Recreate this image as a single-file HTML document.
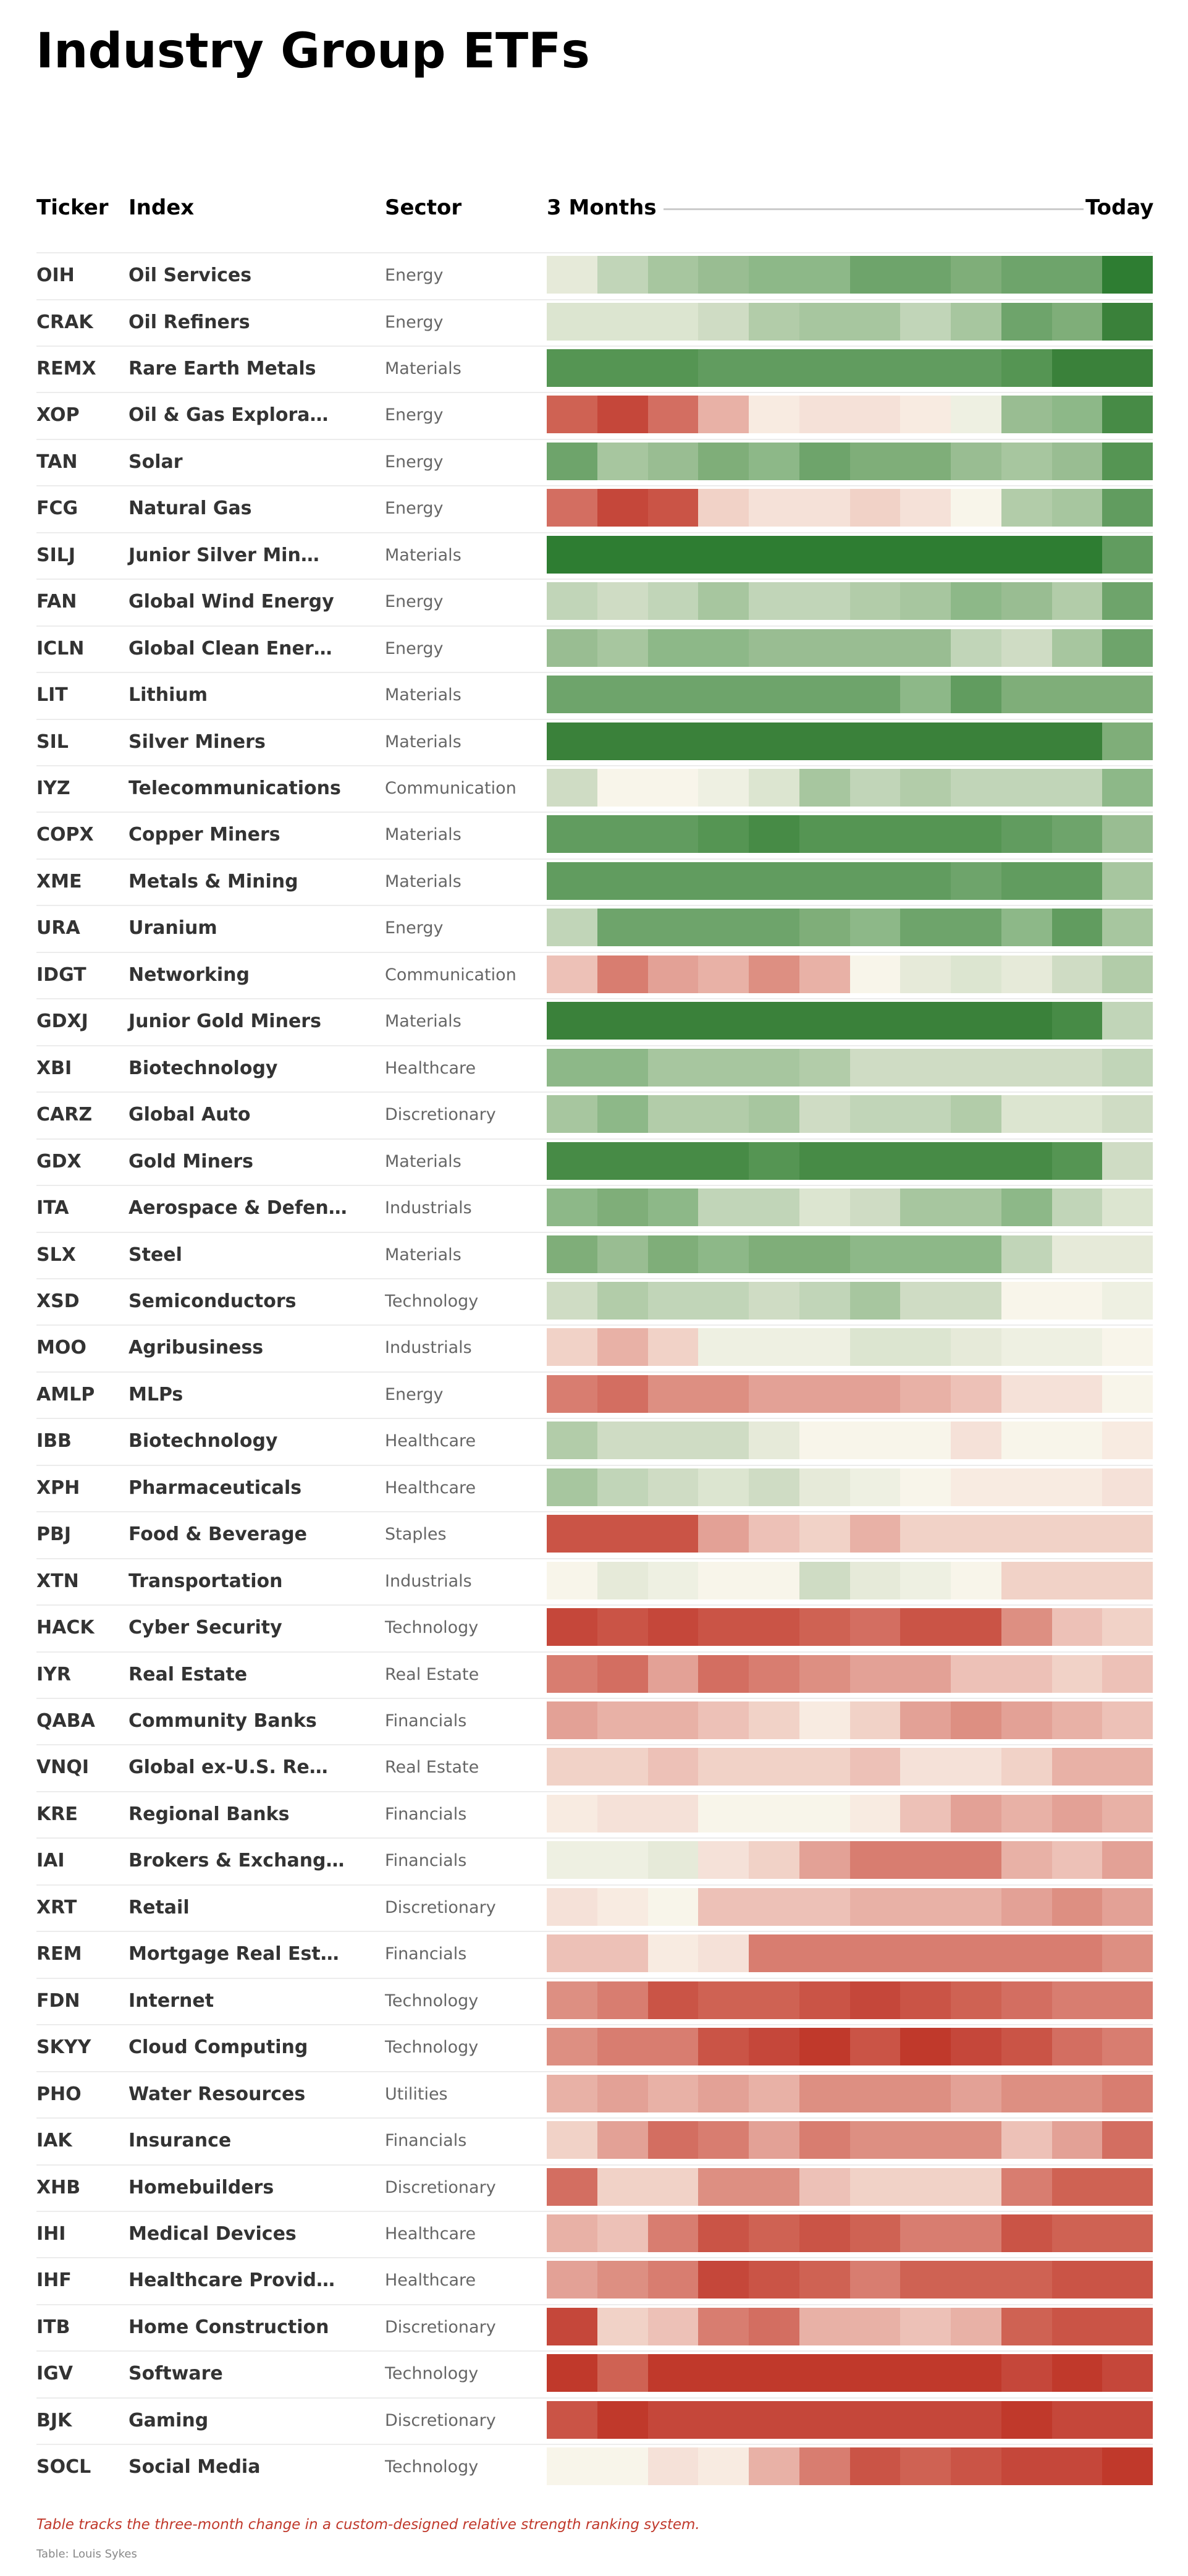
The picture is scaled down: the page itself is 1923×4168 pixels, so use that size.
<!DOCTYPE html>
<html><head><meta charset="utf-8">
<style>
html,body{margin:0;padding:0;background:#fff;}
body{width:1923px;height:4168px;position:relative;overflow:hidden;font-family:"DejaVu Sans","Liberation Sans",sans-serif;}
.title{position:absolute;left:58px;top:44px;font-size:78px;font-weight:bold;color:#000;line-height:1;margin:0;}
.hd{position:absolute;top:316px;font-size:34px;font-weight:bold;color:#000;line-height:40px;}
.hl{position:absolute;left:1074px;width:680px;top:337px;height:3px;background:#cccccc;}
.row{position:absolute;left:59px;width:1807px;height:76px;}
.row:before{content:"";position:absolute;left:0;right:0;top:0;height:2px;background:#ececec;}
.t,.n,.s{position:absolute;top:18px;line-height:40px;white-space:nowrap;}
.t{left:0;font-size:30px;font-weight:bold;color:#333;}
.n{left:149px;font-size:30px;font-weight:bold;color:#333;}
.s{left:564px;font-size:27px;color:#666;}
.h{position:absolute;left:826px;top:6px;width:981px;height:61px;display:flex;}
.h i{flex:1;display:block;}
.gA{background:#e6ead9}.gB{background:#dce5d0}.gC{background:#cfdcc4}.gD{background:#c1d5b8}.gE{background:#b2cca9}
.gF{background:#a7c69f}.gG{background:#99bd92}.gH{background:#8db888}.gI{background:#7fae79}.gJ{background:#6ea46b}
.gK{background:#619c5f}.gL{background:#559553}.gM{background:#478b46}.gN{background:#3a813a}.gO{background:#2e7d32}
.ra{background:#f8ebe1}.rb{background:#f5e1d8}.rc{background:#f1d2c7}.rd{background:#edc1b7}.re{background:#e8b1a6}
.rf{background:#e3a196}.rg{background:#dd8f82}.rh{background:#d87d70}.ri{background:#d36e61}.rj{background:#cf6253}
.rk{background:#ca5446}.rl{background:#c5473a}.rm{background:#c0392b}
.w0{background:#f8f5ea}.w1{background:#eef0e2}
.foot{position:absolute;left:59px;top:4071px;font-size:23px;font-style:italic;color:#c0392b;line-height:28px;white-space:nowrap;}
.src{position:absolute;left:59px;top:4122px;font-size:18px;color:#888;line-height:22px;}
</style></head><body>
<h1 class="title">Industry Group ETFs</h1>
<div class="hd" style="left:59px">Ticker</div>
<div class="hd" style="left:208px">Index</div>
<div class="hd" style="left:623px">Sector</div>
<div class="hd" style="left:885px">3 Months</div>
<div class="hl"></div>
<div class="hd" style="left:1757px">Today</div>

<div class="row" style="top:408px"><b class="t">OIH</b><b class="n">Oil Services</b><span class="s">Energy</span><div class="h"><i class="gA"></i><i class="gD"></i><i class="gF"></i><i class="gG"></i><i class="gH"></i><i class="gH"></i><i class="gJ"></i><i class="gJ"></i><i class="gI"></i><i class="gJ"></i><i class="gJ"></i><i class="gO"></i></div></div>
<div class="row" style="top:483.5px"><b class="t">CRAK</b><b class="n">Oil Refiners</b><span class="s">Energy</span><div class="h"><i class="gB"></i><i class="gB"></i><i class="gB"></i><i class="gC"></i><i class="gE"></i><i class="gF"></i><i class="gF"></i><i class="gD"></i><i class="gF"></i><i class="gJ"></i><i class="gI"></i><i class="gN"></i></div></div>
<div class="row" style="top:559px"><b class="t">REMX</b><b class="n">Rare Earth Metals</b><span class="s">Materials</span><div class="h"><i class="gL"></i><i class="gL"></i><i class="gL"></i><i class="gK"></i><i class="gK"></i><i class="gK"></i><i class="gK"></i><i class="gK"></i><i class="gK"></i><i class="gL"></i><i class="gN"></i><i class="gN"></i></div></div>
<div class="row" style="top:634px"><b class="t">XOP</b><b class="n">Oil &amp; Gas Explora…</b><span class="s">Energy</span><div class="h"><i class="rj"></i><i class="rl"></i><i class="ri"></i><i class="re"></i><i class="ra"></i><i class="rb"></i><i class="rb"></i><i class="ra"></i><i class="w1"></i><i class="gG"></i><i class="gH"></i><i class="gM"></i></div></div>
<div class="row" style="top:710px"><b class="t">TAN</b><b class="n">Solar</b><span class="s">Energy</span><div class="h"><i class="gJ"></i><i class="gF"></i><i class="gG"></i><i class="gI"></i><i class="gH"></i><i class="gJ"></i><i class="gI"></i><i class="gI"></i><i class="gG"></i><i class="gF"></i><i class="gG"></i><i class="gL"></i></div></div>
<div class="row" style="top:785px"><b class="t">FCG</b><b class="n">Natural Gas</b><span class="s">Energy</span><div class="h"><i class="ri"></i><i class="rl"></i><i class="rk"></i><i class="rc"></i><i class="rb"></i><i class="rb"></i><i class="rc"></i><i class="rb"></i><i class="w0"></i><i class="gE"></i><i class="gF"></i><i class="gK"></i></div></div>
<div class="row" style="top:861px"><b class="t">SILJ</b><b class="n">Junior Silver Min…</b><span class="s">Materials</span><div class="h"><i class="gO"></i><i class="gO"></i><i class="gO"></i><i class="gO"></i><i class="gO"></i><i class="gO"></i><i class="gO"></i><i class="gO"></i><i class="gO"></i><i class="gO"></i><i class="gO"></i><i class="gK"></i></div></div>
<div class="row" style="top:936px"><b class="t">FAN</b><b class="n">Global Wind Energy</b><span class="s">Energy</span><div class="h"><i class="gD"></i><i class="gC"></i><i class="gD"></i><i class="gF"></i><i class="gD"></i><i class="gD"></i><i class="gE"></i><i class="gF"></i><i class="gH"></i><i class="gG"></i><i class="gE"></i><i class="gJ"></i></div></div>
<div class="row" style="top:1012px"><b class="t">ICLN</b><b class="n">Global Clean Ener…</b><span class="s">Energy</span><div class="h"><i class="gG"></i><i class="gF"></i><i class="gH"></i><i class="gH"></i><i class="gG"></i><i class="gG"></i><i class="gG"></i><i class="gG"></i><i class="gD"></i><i class="gC"></i><i class="gF"></i><i class="gJ"></i></div></div>
<div class="row" style="top:1087px"><b class="t">LIT</b><b class="n">Lithium</b><span class="s">Materials</span><div class="h"><i class="gJ"></i><i class="gJ"></i><i class="gJ"></i><i class="gJ"></i><i class="gJ"></i><i class="gJ"></i><i class="gJ"></i><i class="gH"></i><i class="gK"></i><i class="gI"></i><i class="gI"></i><i class="gI"></i></div></div>
<div class="row" style="top:1162.5px"><b class="t">SIL</b><b class="n">Silver Miners</b><span class="s">Materials</span><div class="h"><i class="gN"></i><i class="gN"></i><i class="gN"></i><i class="gN"></i><i class="gN"></i><i class="gN"></i><i class="gN"></i><i class="gN"></i><i class="gN"></i><i class="gN"></i><i class="gN"></i><i class="gI"></i></div></div>
<div class="row" style="top:1238px"><b class="t">IYZ</b><b class="n">Telecommunications</b><span class="s">Communication</span><div class="h"><i class="gC"></i><i class="w0"></i><i class="w0"></i><i class="w1"></i><i class="gB"></i><i class="gF"></i><i class="gD"></i><i class="gE"></i><i class="gD"></i><i class="gD"></i><i class="gD"></i><i class="gH"></i></div></div>
<div class="row" style="top:1313px"><b class="t">COPX</b><b class="n">Copper Miners</b><span class="s">Materials</span><div class="h"><i class="gK"></i><i class="gK"></i><i class="gK"></i><i class="gL"></i><i class="gM"></i><i class="gL"></i><i class="gL"></i><i class="gL"></i><i class="gL"></i><i class="gK"></i><i class="gJ"></i><i class="gG"></i></div></div>
<div class="row" style="top:1389px"><b class="t">XME</b><b class="n">Metals &amp; Mining</b><span class="s">Materials</span><div class="h"><i class="gK"></i><i class="gK"></i><i class="gK"></i><i class="gK"></i><i class="gK"></i><i class="gK"></i><i class="gK"></i><i class="gK"></i><i class="gJ"></i><i class="gK"></i><i class="gK"></i><i class="gF"></i></div></div>
<div class="row" style="top:1464px"><b class="t">URA</b><b class="n">Uranium</b><span class="s">Energy</span><div class="h"><i class="gD"></i><i class="gJ"></i><i class="gJ"></i><i class="gJ"></i><i class="gJ"></i><i class="gI"></i><i class="gH"></i><i class="gJ"></i><i class="gJ"></i><i class="gH"></i><i class="gK"></i><i class="gF"></i></div></div>
<div class="row" style="top:1540px"><b class="t">IDGT</b><b class="n">Networking</b><span class="s">Communication</span><div class="h"><i class="rd"></i><i class="rh"></i><i class="rf"></i><i class="re"></i><i class="rg"></i><i class="re"></i><i class="w0"></i><i class="gA"></i><i class="gB"></i><i class="gA"></i><i class="gC"></i><i class="gE"></i></div></div>
<div class="row" style="top:1615px"><b class="t">GDXJ</b><b class="n">Junior Gold Miners</b><span class="s">Materials</span><div class="h"><i class="gN"></i><i class="gN"></i><i class="gN"></i><i class="gN"></i><i class="gN"></i><i class="gN"></i><i class="gN"></i><i class="gN"></i><i class="gN"></i><i class="gN"></i><i class="gM"></i><i class="gD"></i></div></div>
<div class="row" style="top:1691px"><b class="t">XBI</b><b class="n">Biotechnology</b><span class="s">Healthcare</span><div class="h"><i class="gH"></i><i class="gH"></i><i class="gF"></i><i class="gF"></i><i class="gF"></i><i class="gE"></i><i class="gC"></i><i class="gC"></i><i class="gC"></i><i class="gC"></i><i class="gC"></i><i class="gD"></i></div></div>
<div class="row" style="top:1766px"><b class="t">CARZ</b><b class="n">Global Auto</b><span class="s">Discretionary</span><div class="h"><i class="gF"></i><i class="gH"></i><i class="gE"></i><i class="gE"></i><i class="gF"></i><i class="gC"></i><i class="gD"></i><i class="gD"></i><i class="gE"></i><i class="gB"></i><i class="gB"></i><i class="gC"></i></div></div>
<div class="row" style="top:1842px"><b class="t">GDX</b><b class="n">Gold Miners</b><span class="s">Materials</span><div class="h"><i class="gM"></i><i class="gM"></i><i class="gM"></i><i class="gM"></i><i class="gL"></i><i class="gM"></i><i class="gM"></i><i class="gM"></i><i class="gM"></i><i class="gM"></i><i class="gL"></i><i class="gC"></i></div></div>
<div class="row" style="top:1917px"><b class="t">ITA</b><b class="n">Aerospace &amp; Defen…</b><span class="s">Industrials</span><div class="h"><i class="gH"></i><i class="gI"></i><i class="gH"></i><i class="gD"></i><i class="gD"></i><i class="gB"></i><i class="gC"></i><i class="gF"></i><i class="gF"></i><i class="gH"></i><i class="gD"></i><i class="gB"></i></div></div>
<div class="row" style="top:1992.5px"><b class="t">SLX</b><b class="n">Steel</b><span class="s">Materials</span><div class="h"><i class="gI"></i><i class="gG"></i><i class="gI"></i><i class="gH"></i><i class="gI"></i><i class="gI"></i><i class="gH"></i><i class="gH"></i><i class="gH"></i><i class="gD"></i><i class="gA"></i><i class="gA"></i></div></div>
<div class="row" style="top:2068px"><b class="t">XSD</b><b class="n">Semiconductors</b><span class="s">Technology</span><div class="h"><i class="gC"></i><i class="gE"></i><i class="gD"></i><i class="gD"></i><i class="gC"></i><i class="gD"></i><i class="gF"></i><i class="gC"></i><i class="gC"></i><i class="w0"></i><i class="w0"></i><i class="w1"></i></div></div>
<div class="row" style="top:2143px"><b class="t">MOO</b><b class="n">Agribusiness</b><span class="s">Industrials</span><div class="h"><i class="rc"></i><i class="re"></i><i class="rc"></i><i class="w1"></i><i class="w1"></i><i class="w1"></i><i class="gB"></i><i class="gB"></i><i class="gA"></i><i class="w1"></i><i class="w1"></i><i class="w0"></i></div></div>
<div class="row" style="top:2219px"><b class="t">AMLP</b><b class="n">MLPs</b><span class="s">Energy</span><div class="h"><i class="rh"></i><i class="ri"></i><i class="rg"></i><i class="rg"></i><i class="rf"></i><i class="rf"></i><i class="rf"></i><i class="re"></i><i class="rd"></i><i class="rb"></i><i class="rb"></i><i class="w0"></i></div></div>
<div class="row" style="top:2294px"><b class="t">IBB</b><b class="n">Biotechnology</b><span class="s">Healthcare</span><div class="h"><i class="gE"></i><i class="gC"></i><i class="gC"></i><i class="gC"></i><i class="gA"></i><i class="w0"></i><i class="w0"></i><i class="w0"></i><i class="rb"></i><i class="w0"></i><i class="w0"></i><i class="ra"></i></div></div>
<div class="row" style="top:2370px"><b class="t">XPH</b><b class="n">Pharmaceuticals</b><span class="s">Healthcare</span><div class="h"><i class="gF"></i><i class="gD"></i><i class="gC"></i><i class="gB"></i><i class="gC"></i><i class="gA"></i><i class="w1"></i><i class="w0"></i><i class="ra"></i><i class="ra"></i><i class="ra"></i><i class="rb"></i></div></div>
<div class="row" style="top:2445px"><b class="t">PBJ</b><b class="n">Food &amp; Beverage</b><span class="s">Staples</span><div class="h"><i class="rk"></i><i class="rk"></i><i class="rk"></i><i class="rf"></i><i class="rd"></i><i class="rc"></i><i class="re"></i><i class="rc"></i><i class="rc"></i><i class="rc"></i><i class="rc"></i><i class="rc"></i></div></div>
<div class="row" style="top:2521px"><b class="t">XTN</b><b class="n">Transportation</b><span class="s">Industrials</span><div class="h"><i class="w0"></i><i class="gA"></i><i class="w1"></i><i class="w0"></i><i class="w0"></i><i class="gC"></i><i class="gA"></i><i class="w1"></i><i class="w0"></i><i class="rc"></i><i class="rc"></i><i class="rc"></i></div></div>
<div class="row" style="top:2596px"><b class="t">HACK</b><b class="n">Cyber Security</b><span class="s">Technology</span><div class="h"><i class="rl"></i><i class="rk"></i><i class="rl"></i><i class="rk"></i><i class="rk"></i><i class="rj"></i><i class="ri"></i><i class="rk"></i><i class="rk"></i><i class="rg"></i><i class="rd"></i><i class="rc"></i></div></div>
<div class="row" style="top:2671.5px"><b class="t">IYR</b><b class="n">Real Estate</b><span class="s">Real Estate</span><div class="h"><i class="rh"></i><i class="ri"></i><i class="rf"></i><i class="ri"></i><i class="rh"></i><i class="rg"></i><i class="rf"></i><i class="rf"></i><i class="rd"></i><i class="rd"></i><i class="rc"></i><i class="rd"></i></div></div>
<div class="row" style="top:2747px"><b class="t">QABA</b><b class="n">Community Banks</b><span class="s">Financials</span><div class="h"><i class="rf"></i><i class="re"></i><i class="re"></i><i class="rd"></i><i class="rc"></i><i class="ra"></i><i class="rc"></i><i class="rf"></i><i class="rg"></i><i class="rf"></i><i class="re"></i><i class="rd"></i></div></div>
<div class="row" style="top:2822px"><b class="t">VNQI</b><b class="n">Global ex-U.S. Re…</b><span class="s">Real Estate</span><div class="h"><i class="rc"></i><i class="rc"></i><i class="rd"></i><i class="rc"></i><i class="rc"></i><i class="rc"></i><i class="rd"></i><i class="rb"></i><i class="rb"></i><i class="rc"></i><i class="re"></i><i class="re"></i></div></div>
<div class="row" style="top:2898px"><b class="t">KRE</b><b class="n">Regional Banks</b><span class="s">Financials</span><div class="h"><i class="ra"></i><i class="rb"></i><i class="rb"></i><i class="w0"></i><i class="w0"></i><i class="w0"></i><i class="ra"></i><i class="rd"></i><i class="rf"></i><i class="re"></i><i class="rf"></i><i class="re"></i></div></div>
<div class="row" style="top:2973px"><b class="t">IAI</b><b class="n">Brokers &amp; Exchang…</b><span class="s">Financials</span><div class="h"><i class="w1"></i><i class="w1"></i><i class="gA"></i><i class="rb"></i><i class="rc"></i><i class="rf"></i><i class="rh"></i><i class="rh"></i><i class="rh"></i><i class="re"></i><i class="rd"></i><i class="rf"></i></div></div>
<div class="row" style="top:3049px"><b class="t">XRT</b><b class="n">Retail</b><span class="s">Discretionary</span><div class="h"><i class="rb"></i><i class="ra"></i><i class="w0"></i><i class="rd"></i><i class="rd"></i><i class="rd"></i><i class="re"></i><i class="re"></i><i class="re"></i><i class="rf"></i><i class="rg"></i><i class="rf"></i></div></div>
<div class="row" style="top:3124px"><b class="t">REM</b><b class="n">Mortgage Real Est…</b><span class="s">Financials</span><div class="h"><i class="rd"></i><i class="rd"></i><i class="ra"></i><i class="rb"></i><i class="rh"></i><i class="rh"></i><i class="rh"></i><i class="rh"></i><i class="rh"></i><i class="rh"></i><i class="rh"></i><i class="rg"></i></div></div>
<div class="row" style="top:3200px"><b class="t">FDN</b><b class="n">Internet</b><span class="s">Technology</span><div class="h"><i class="rg"></i><i class="rh"></i><i class="rk"></i><i class="rj"></i><i class="rj"></i><i class="rk"></i><i class="rl"></i><i class="rk"></i><i class="rj"></i><i class="ri"></i><i class="rh"></i><i class="rh"></i></div></div>
<div class="row" style="top:3275px"><b class="t">SKYY</b><b class="n">Cloud Computing</b><span class="s">Technology</span><div class="h"><i class="rg"></i><i class="rh"></i><i class="rh"></i><i class="rk"></i><i class="rl"></i><i class="rm"></i><i class="rk"></i><i class="rm"></i><i class="rl"></i><i class="rk"></i><i class="ri"></i><i class="rh"></i></div></div>
<div class="row" style="top:3351px"><b class="t">PHO</b><b class="n">Water Resources</b><span class="s">Utilities</span><div class="h"><i class="re"></i><i class="rf"></i><i class="re"></i><i class="rf"></i><i class="re"></i><i class="rg"></i><i class="rg"></i><i class="rg"></i><i class="rf"></i><i class="rg"></i><i class="rg"></i><i class="rh"></i></div></div>
<div class="row" style="top:3426px"><b class="t">IAK</b><b class="n">Insurance</b><span class="s">Financials</span><div class="h"><i class="rc"></i><i class="rf"></i><i class="ri"></i><i class="rh"></i><i class="rf"></i><i class="rh"></i><i class="rg"></i><i class="rg"></i><i class="rg"></i><i class="rd"></i><i class="rf"></i><i class="ri"></i></div></div>
<div class="row" style="top:3501.5px"><b class="t">XHB</b><b class="n">Homebuilders</b><span class="s">Discretionary</span><div class="h"><i class="ri"></i><i class="rc"></i><i class="rc"></i><i class="rg"></i><i class="rg"></i><i class="rd"></i><i class="rc"></i><i class="rc"></i><i class="rc"></i><i class="rh"></i><i class="rj"></i><i class="rj"></i></div></div>
<div class="row" style="top:3577px"><b class="t">IHI</b><b class="n">Medical Devices</b><span class="s">Healthcare</span><div class="h"><i class="re"></i><i class="rd"></i><i class="rh"></i><i class="rk"></i><i class="rj"></i><i class="rk"></i><i class="rj"></i><i class="rh"></i><i class="rh"></i><i class="rk"></i><i class="rj"></i><i class="rj"></i></div></div>
<div class="row" style="top:3652px"><b class="t">IHF</b><b class="n">Healthcare Provid…</b><span class="s">Healthcare</span><div class="h"><i class="rf"></i><i class="rg"></i><i class="rh"></i><i class="rl"></i><i class="rk"></i><i class="rj"></i><i class="rh"></i><i class="rj"></i><i class="rj"></i><i class="rj"></i><i class="rk"></i><i class="rk"></i></div></div>
<div class="row" style="top:3728px"><b class="t">ITB</b><b class="n">Home Construction</b><span class="s">Discretionary</span><div class="h"><i class="rl"></i><i class="rc"></i><i class="rd"></i><i class="rh"></i><i class="ri"></i><i class="re"></i><i class="re"></i><i class="rd"></i><i class="re"></i><i class="rj"></i><i class="rk"></i><i class="rk"></i></div></div>
<div class="row" style="top:3803px"><b class="t">IGV</b><b class="n">Software</b><span class="s">Technology</span><div class="h"><i class="rm"></i><i class="rj"></i><i class="rm"></i><i class="rm"></i><i class="rm"></i><i class="rm"></i><i class="rm"></i><i class="rm"></i><i class="rm"></i><i class="rl"></i><i class="rm"></i><i class="rl"></i></div></div>
<div class="row" style="top:3879px"><b class="t">BJK</b><b class="n">Gaming</b><span class="s">Discretionary</span><div class="h"><i class="rk"></i><i class="rm"></i><i class="rl"></i><i class="rl"></i><i class="rl"></i><i class="rl"></i><i class="rl"></i><i class="rl"></i><i class="rl"></i><i class="rm"></i><i class="rl"></i><i class="rl"></i></div></div>
<div class="row" style="top:3954px"><b class="t">SOCL</b><b class="n">Social Media</b><span class="s">Technology</span><div class="h"><i class="w0"></i><i class="w0"></i><i class="rb"></i><i class="ra"></i><i class="re"></i><i class="rh"></i><i class="rk"></i><i class="rj"></i><i class="rk"></i><i class="rl"></i><i class="rl"></i><i class="rm"></i></div></div>

<div class="foot">Table tracks the three-month change in a custom-designed relative strength ranking system.</div>
<div class="src">Table: Louis Sykes</div>
</body></html>
